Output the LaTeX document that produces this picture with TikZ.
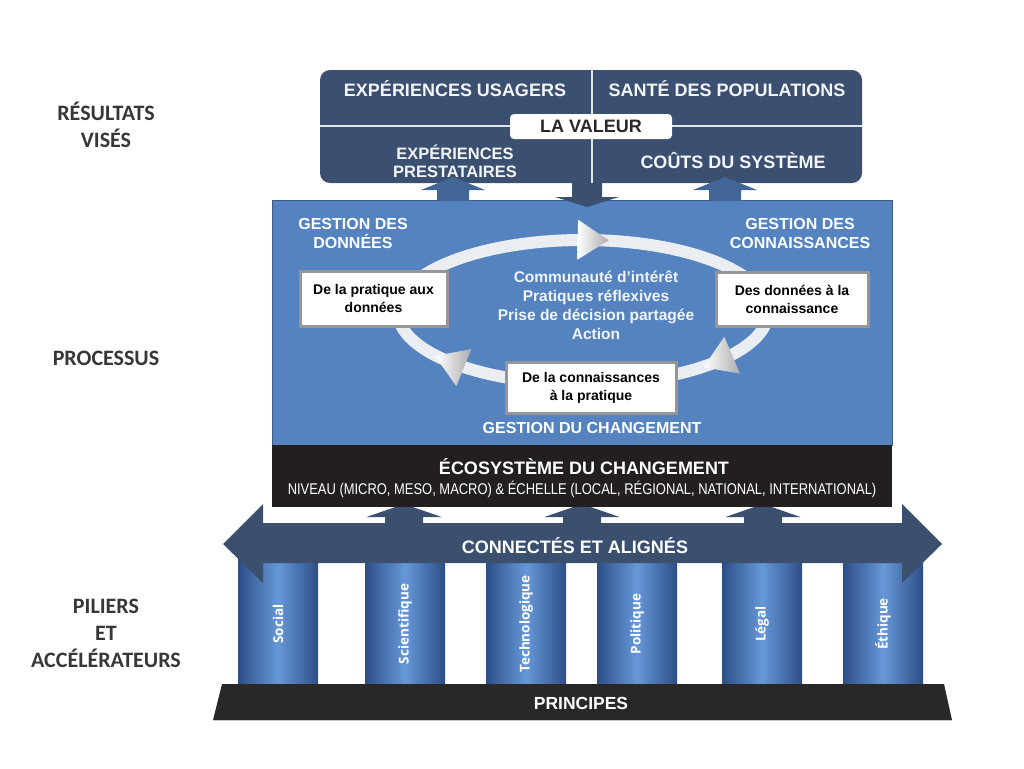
\documentclass[tikz,border=0pt]{standalone}
\usepackage{fontspec}
\setmainfont{Liberation Sans}
\newfontfamily\sidefont{Carlito}
\newfontfamily\pilfont{Open Sans}
\newfontfamily\narrowfont[FakeStretch=0.835]{Liberation Sans}
\usepackage{tikz}
\usetikzlibrary{calc,positioning}
\usepackage{xcolor}
\definecolor{resblue}{RGB}{59, 80, 112}
\definecolor{upblue}{RGB}{66, 102, 150}
\definecolor{procblue}{RGB}{84, 131, 192}
\definecolor{barblue}{RGB}{58, 80, 110}
\definecolor{ecoblack}{RGB}{35, 31, 32}
\definecolor{basegray}{RGB}{40, 40, 40}
\definecolor{ringgray}{RGB}{234, 237, 241}
\definecolor{pildark}{RGB}{45, 78, 135}
\definecolor{pillight}{RGB}{102, 152, 216}
\definecolor{sidegray}{RGB}{55, 55, 55}
\definecolor{boxgray}{RGB}{150, 150, 150}
\tikzset{
  % Etiquettes de gauche
  sidelab/.style  = {font=\sidefont\bfseries\fontsize{22}{27}\selectfont, text=sidegray, align=center},
  % Bloc des resultats
  resbox/.style   = {fill=resblue, rounded corners=10pt},
  restxt/.style   = {font=\bfseries\fontsize{18}{19}\selectfont, text=white!94!resblue, align=center, inner sep=0pt},
  valbox/.style   = {fill=white, rounded corners=4pt, minimum width=162pt, minimum height=25pt,
                     font=\bfseries\fontsize{18}{19}\selectfont, text=basegray, inner sep=0pt},
  % Bloc des processus
  procbox/.style  = {fill=procblue},
  proctxt/.style  = {font=\bfseries\fontsize{16}{19}\selectfont, text=white, align=center, inner sep=0pt},
  midtxt/.style   = {font=\bfseries\fontsize{15.5}{19}\selectfont, text=white!92!procblue, align=center, inner sep=0pt},
  stepbox/.style  = {fill=white, draw=boxgray, line width=3pt, font=\bfseries\fontsize{14}{18}\selectfont,
                     align=center, inner sep=0pt},
  ringarrow/.style= {left color=white, right color=gray!65},
  % Fleches pleines
  blockarrow/.style = {fill=upblue},
  % Ecosysteme, piliers, base
  ecobox/.style   = {fill=ecoblack},
  pillar/.style   = {left color=pildark, right color=pildark, middle color=pillight},
  piltxt/.style   = {font=\pilfont\bfseries\fontsize{13.5}{15}\selectfont, text=white, rotate=90, inner sep=0pt},
  bartxt/.style   = {font=\bfseries\fontsize{18}{20}\selectfont, text=white, inner sep=0pt},
}

\begin{document}
\begin{tikzpicture}[x=1pt, y=-1pt]
  \useasboundingbox (0,0) rectangle (1024,768);
  % Resultats vises
  \fill[resbox] (320,70) rectangle (862,183);
  \draw[white!85!resblue, line width=1.2pt] (320,126) -- (862,126);
  \draw[white!85!resblue, line width=1.2pt] (592,70) -- (592,183);
  \node[restxt] (usagers) at (455,89) {EXPÉRIENCES USAGERS};
  \node[restxt] (sante)   at (727,89) {SANTÉ DES POPULATIONS};
  \node[restxt, font=\bfseries\fontsize{16.5}{18}\selectfont] (prest) at (455,161) {EXPÉRIENCES\\PRESTATAIRES};
  \node[restxt] (couts)   at (733,161) {COÛTS DU SYSTÈME};
  \node[valbox] (valeur)  at (591,126.5) {LA VALEUR};

  % Processus
  \fill[procbox] (272,200) rectangle (892,445);
  \draw[procblue!70!black, thin] (272,200) rectangle (892,445);
  \node[proctxt] (gdon)  at (353,233) {GESTION DES\\DONNÉES};
  \node[proctxt] (gcon)  at (800,233) {GESTION DES\\CONNAISSANCES};
  \node[proctxt] (gchg)  at (592,428) {GESTION DU CHANGEMENT};
  % Cycle
  \draw[ringgray, line width=12pt] (583,312) ellipse [x radius=185, y radius=72];
  \foreach \px/\py/\ang in {592.7/240/-1, 718.3/361/203, 449.9/362/158} {
    \begin{scope}[shift={(\px,\py)}, rotate=\ang]
      \shade[ringarrow] (-15,-20) -- (16,0) -- (-15,20) -- cycle;
    \end{scope}
  }
  \node[midtxt] (centre) at (596,305)
    {Communauté d’intérêt\\Pratiques réflexives\\Prise de décision partagée\\Action};
  \node[stepbox, minimum width=147pt, minimum height=55pt] (pratdon) at (373.5,298.5)
    {De la pratique aux\\données};
  \node[stepbox, minimum width=152pt, minimum height=54pt] (doncon) at (792,299)
    {Des données à la\\connaissance};
  \node[stepbox, minimum width=170pt, minimum height=51pt] (conprat) at (591,387.5)
    {De la connaissances\\à la pratique};
  % Fleches montantes vers les resultats
  \foreach \c in {453, 725}
    \fill[blockarrow] (\c-16,201) -- (\c-16,190) -- (\c-32,190) -- (\c,177)
      -- (\c+32,190) -- (\c+16,190) -- (\c+16,201) -- cycle;
  % Fleche descendante
  \fill[blockarrow, fill=barblue] (572,183) -- (572,197) -- (555,197) -- (587,207)
    -- (619,197) -- (602,197) -- (602,183) -- cycle;

  % Fleches montantes vers l'ecosysteme
  \foreach \c in {404, 582, 763}
    \fill[blockarrow, fill=barblue] (\c-19,525) -- (\c-19,517) -- (\c-37.5,517) -- (\c,504)
      -- (\c+37.5,517) -- (\c+19,517) -- (\c+19,525) -- cycle;
  % Ecosysteme du changement
  \fill[ecobox] (272,445) rectangle (892,507);
  \node[bartxt] (ecotitre) at (584,467) {ÉCOSYSTÈME DU CHANGEMENT};
  \node[font=\narrowfont\fontsize{15.5}{17}\selectfont, text=white, inner sep=0pt] (ecoechelle) at (582,489)
    {NIVEAU (MICRO, MESO, MACRO) \& ÉCHELLE (LOCAL, RÉGIONAL, NATIONAL, INTERNATIONAL)};

  % Piliers
  \foreach \x/\lab [count=\i] in {238/Social, 365/Scientifique, 486/Technologique,
                                  597/Politique, 722/Légal, 843/Éthique} {
    \shade[pillar] (\x,555) rectangle ++(80,131);
    \node[piltxt] (pil\i) at (\x+40,624) {\lab};
  }
  % Connectes et alignes
  \fill[barblue] (263,523) -- (263,504) -- (223,544) -- (263,583) -- (263,563) -- (902,563)
    -- (902,583) -- (942,544) -- (902,504) -- (902,523) -- cycle;
  \node[bartxt] (connect) at (575,546) {CONNECTÉS ET ALIGNÉS};
  % Principes
  \fill[basegray] (222,684) -- (944,684) -- (952,720) -- (213,720) -- cycle;
  \draw[gray!40, thin] (213,720) -- (952,720);
  \node[bartxt, font=\bfseries\fontsize{17.5}{20}\selectfont] (principes) at (581,703) {PRINCIPES};

  % Etiquettes de gauche
  \node[sidelab] (resvis) at (106,125) {RÉSULTATS\\VISÉS};
  \node[sidelab] (proc)   at (106,358) {PROCESSUS};
  \node[sidelab] (pil)    at (106,633) {PILIERS\\ET\\ACCÉLÉRATEURS};
\end{tikzpicture}
\end{document}
